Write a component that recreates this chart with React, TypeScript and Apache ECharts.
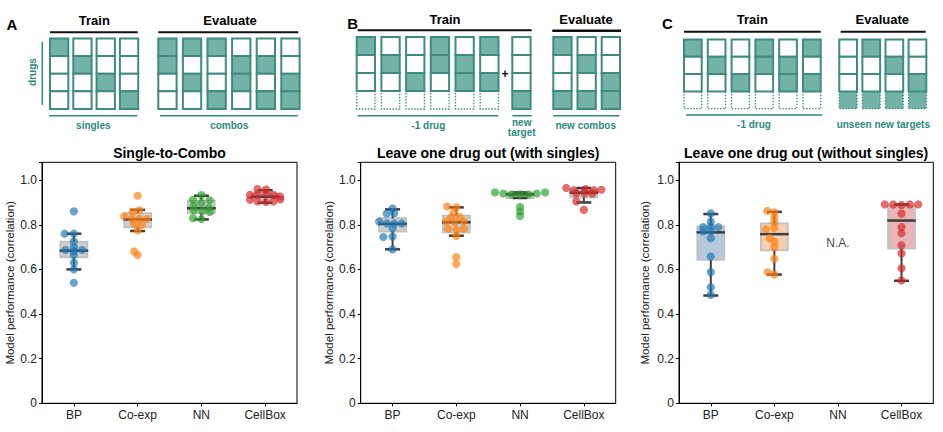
import React, { useEffect, useRef } from 'react';
import * as echarts from 'echarts';

// ---------------- data ----------------
const CATEGORIES = ['BP', 'Co-exp', 'NN', 'CellBox'];
const PANEL_TITLES = ['Single-to-Combo', 'Leave one drug out (with singles)', 'Leave one drug out (without singles)'];
const Y_NAME = 'Model performance (correlation)';
const NA_TEXT = 'N.A.';
const NA_VALUE = 0.717;

// point values and swarm column
const A_BP_VALUES = [0.86, 0.76, 0.76, 0.725, 0.70, 0.687, 0.682, 0.687, 0.665, 0.63, 0.60, 0.54];
const A_BP_SLOTS = [0, -1.1, 0, 0, 0, -1, 0, 1, 0, 0, 0, 0];
const A_CO_VALUES = [0.93, 0.865, 0.858, 0.838, 0.826, 0.826, 0.826, 0.805, 0.80, 0.775, 0.68, 0.665];
const A_CO_SLOTS = [0, 0.2, -0.6, -1.6, -0.7, 0.2, 1.1, -0.4, 0.5, 0, -0.4, 0];
const A_NN_VALUES = [0.933, 0.912, 0.91, 0.897, 0.885, 0.876, 0.866, 0.862, 0.858, 0.83, 0.826];
const A_NN_SLOTS = [0, -1, 1, 0, -0.9, 0.9, -0.9, 0.1, 1, -1, 0];
const A_CB_VALUES = [0.96, 0.958, 0.934, 0.937, 0.94, 0.934, 0.926, 0.912, 0.905, 0.902, 0.905, 0.914];
const A_CB_SLOTS = [-0.9, 0.1, -1.8, -0.9, 0.1, 1, 1.8, -1.8, -0.9, 0.1, 1, 1.8];

const B_BP_VALUES = [0.873, 0.85, 0.852, 0.814, 0.806, 0.806, 0.806, 0.785, 0.745, 0.747, 0.69];
const B_BP_SLOTS = [0, -0.7, 0.2, -1.6, -0.7, 0.2, 1.1, 0, -1.1, 0, 0];
const B_CO_VALUES = [0.882, 0.878, 0.856, 0.835, 0.835, 0.815, 0.812, 0.815, 0.782, 0.778, 0.782, 0.75, 0.655, 0.624];
const B_CO_SLOTS = [-1.1, 0, -0.3, -0.6, 0.4, -1.2, -0.2, 0.9, -1, 0, 0.9, 0, 0, 0];
const B_NN_VALUES = [0.945, 0.94, 0.936, 0.936, 0.936, 0.94, 0.945, 0.88, 0.86, 0.84];
const B_NN_SLOTS = [-3, -2, -1, 0, 1, 2, 3, 0, 0, 0];
const B_CB_VALUES = [0.965, 0.955, 0.96, 0.955, 0.957, 0.94, 0.942, 0.94, 0.905, 0.867];
const B_CB_SLOTS = [-2.1, -1.2, 0.2, 1.2, 2.1, -0.9, 0.1, 1, -0.9, 0];

const C_BP_VALUES = [0.851, 0.814, 0.79, 0.792, 0.79, 0.77, 0.772, 0.74, 0.658, 0.588, 0.52, 0.486];
const C_BP_SLOTS = [0, 0, -0.9, 0, 0.9, -0.9, 0, 0, 0, 0, 0, 0];
const C_CO_VALUES = [0.862, 0.856, 0.835, 0.812, 0.78, 0.786, 0.74, 0.725, 0.70, 0.648, 0.587, 0.577];
const C_CO_SLOTS = [-0.85, 0, 0, 0, -1, 0, -0.55, 0, 0, 0, -0.8, 0];
const C_CB_VALUES = [0.891, 0.891, 0.888, 0.891, 0.891, 0.85, 0.79, 0.762, 0.708, 0.672, 0.605, 0.55];
const C_CB_SLOTS = [-2, -1, 0, 1, 2, 0, 0, 0, 0, 0, 0, 0];

// box stats: [lower whisker, q1, median, q3, upper whisker]
const A_BOX = [[0.60, 0.654, 0.684, 0.724, 0.76], [0.772, 0.789, 0.824, 0.852, 0.867], [0.824, 0.852, 0.874, 0.908, 0.93], [0.899, 0.918, 0.926, 0.94, 0.955]];
const B_BOX = [[0.69, 0.77, 0.804, 0.829, 0.869], [0.751, 0.766, 0.811, 0.841, 0.878], [0.92, 0.92, 0.936, 0.945, 0.945], [0.90, 0.923, 0.944, 0.957, 0.965]];
const C_BOX = [[0.483, 0.643, 0.766, 0.792, 0.848], [0.577, 0.686, 0.758, 0.806, 0.858], null, [0.549, 0.694, 0.819, 0.885, 0.891]];

// schematic cell patterns: 0 white, 1 filled, 2 white dotted, 3 filled dotted
const A_TRAIN = [[1, 0, 0, 0], [0, 1, 0, 0], [0, 0, 1, 0], [0, 0, 0, 1]];
const A_EVAL = [[1, 1, 0, 0], [1, 0, 1, 0], [1, 0, 0, 1], [0, 1, 1, 0], [0, 1, 0, 1], [0, 0, 1, 1]];
const B_TRAIN = [[1, 0, 0, 2], [0, 1, 0, 2], [0, 0, 1, 2], [1, 1, 0, 2], [0, 1, 1, 2], [1, 0, 1, 2]];
const B_NEW = [[0, 0, 0, 1]];
const B_EVAL = [[1, 0, 0, 1], [0, 1, 0, 1], [0, 0, 1, 1]];
const C_TRAIN = [[1, 0, 0, 2], [0, 1, 0, 2], [0, 0, 1, 2], [1, 1, 0, 2], [0, 1, 1, 2], [1, 0, 1, 2]];
const C_EVAL = [[0, 0, 0, 3], [1, 0, 0, 3], [0, 1, 0, 3], [0, 0, 1, 3]];

// ---------------- styles / layout ----------------
const FONT = '"Liberation Sans", Arial, Helvetica, sans-serif';
const COLORS = ['#1f77b4', '#ff7f0e', '#2ca02c', '#d62728'];
const GRIDS = [{ left: 42, width: 255, gap: 25 }, { left: 360.7, width: 255, gap: 26 }, { left: 679, width: 254.3, gap: 28 }];
const GRID_TOP = 162.3;
const GRID_H = 241;
const Y_MAX = 1.08;
const MARK = 8.2;
const TEAL_FILL = '#72b2a7';
const TEAL_STROKE = '#3f8b80';
const TEAL_TEXT = '#2b8a7e';
const DARK = '#3d3d3d';

const POINTS = [
  [[A_BP_VALUES, A_BP_SLOTS], [A_CO_VALUES, A_CO_SLOTS], [A_NN_VALUES, A_NN_SLOTS], [A_CB_VALUES, A_CB_SLOTS]],
  [[B_BP_VALUES, B_BP_SLOTS], [B_CO_VALUES, B_CO_SLOTS], [B_NN_VALUES, B_NN_SLOTS], [B_CB_VALUES, B_CB_SLOTS]],
  [[C_BP_VALUES, C_BP_SLOTS], [C_CO_VALUES, C_CO_SLOTS], null, [C_CB_VALUES, C_CB_SLOTS]],
];
const BOXES = [A_BOX, B_BOX, C_BOX];
const BOX_FILLS = [
  ['#d0d0d0', '#d0d0d0', '#d0d0d0', '#d0d0d0'],
  ['#d0d0d0', '#d0d0d0', '#d0d0d0', '#d0d0d0'],
  ['#b5c8dc', '#f6cfb1', '#d0d0d0', '#e8b6b9'],
];

function txt(text: string, x: number, y: number, size: number, color: string, bold = true, extra: any = {}) {
  return {
    type: 'text', x, y, ...extra,
    style: { text, x: 0, y: 0, fill: color, fontSize: size, fontWeight: bold ? 'bold' : 'normal', fontFamily: FONT, align: 'center', verticalAlign: 'middle' },
  };
}
function hline(x1: number, x2: number, y: number, color: string, w: number) {
  return { type: 'line', shape: { x1, y1: y, x2, y2: y }, style: { stroke: color, lineWidth: w } };
}
function columns(pats: number[][], x0: number, step: number, top: number, w: number, ch: number) {
  const els: any[] = [];
  pats.forEach((p, ci) => {
    const x = x0 + ci * step;
    p.forEach((code, ri) => {
      const dotted = code >= 2;
      const filled = code === 1 || code === 3;
      els.push({
        type: 'rect',
        shape: { x, y: top + ri * ch, width: w, height: ch },
        style: {
          fill: filled ? TEAL_FILL : '#ffffff',
          stroke: TEAL_STROKE,
          lineWidth: dotted ? 1.3 : 2,
          lineDash: dotted ? [1.5, 1.5] : null,
        },
        z: dotted ? 1 : 2,
      });
    });
  });
  return els;
}

function schematic() {
  const els: any[] = [];
  // Panel A
  els.push(txt('A', 12, 24, 15, '#000'));
  els.push(txt('Train', 94.3, 20.5, 13, '#000'));
  els.push(txt('Evaluate', 230, 20.5, 13, '#000'));
  els.push(hline(50, 137.7, 32.3, '#111', 2));
  els.push(hline(158.3, 298.3, 32.3, '#111', 2));
  els.push(...columns(A_TRAIN, 50, 23.3, 38.5, 18.3, 17.6));
  els.push(...columns(A_EVAL, 158.3, 24.6, 38.5, 18.3, 17.6));
  els.push(txt('drugs', 32.5, 72, 10, TEAL_TEXT, true, { rotation: Math.PI / 2 }));
  els.push({ type: 'line', shape: { x1: 42.3, y1: 41.7, x2: 42.3, y2: 105 }, style: { stroke: TEAL_TEXT, lineWidth: 1.5 } });
  els.push(hline(49.3, 137.3, 115.7, TEAL_TEXT, 1.5));
  els.push(hline(160, 297.7, 115.7, TEAL_TEXT, 1.5));
  els.push(txt('singles', 93.3, 125, 10, TEAL_TEXT));
  els.push(txt('combos', 229.3, 125, 10, TEAL_TEXT));
  // Panel B
  els.push(txt('B', 352.7, 23.3, 15, '#000'));
  els.push(txt('Train', 445, 19, 13, '#000'));
  els.push(txt('Evaluate', 586, 19, 13, '#000'));
  els.push(hline(357.7, 531.7, 30.3, '#111', 2));
  els.push(hline(552.3, 621, 30.7, '#111', 2.5));
  els.push(...columns(B_TRAIN, 356.7, 24.7, 37, 18.3, 18));
  els.push(...columns(B_NEW, 512.3, 0, 37, 18.3, 18));
  els.push(...columns(B_EVAL, 553.3, 24.2, 37, 18.3, 18));
  els.push(txt('+', 505, 74, 12, '#000'));
  els.push(hline(357.7, 498.3, 115.7, TEAL_TEXT, 1.5));
  els.push(hline(512.3, 531.7, 115.7, TEAL_TEXT, 1.5));
  els.push(hline(553.3, 619.3, 115.7, TEAL_TEXT, 1.5));
  els.push(txt('-1 drug', 428.3, 125, 10, TEAL_TEXT));
  els.push(txt('new', 521.7, 122, 10, TEAL_TEXT));
  els.push(txt('target', 521.7, 132.5, 10, TEAL_TEXT));
  els.push(txt('new combos', 585.7, 125, 10, TEAL_TEXT));
  // Panel C
  els.push(txt('C', 667.3, 23.3, 15, '#000'));
  els.push(txt('Train', 752.3, 19, 13, '#000'));
  els.push(txt('Evaluate', 882.3, 19, 13, '#000'));
  els.push(hline(684, 820.7, 31.7, '#111', 2));
  els.push(hline(840.7, 925.7, 31.7, '#111', 2));
  els.push(...columns(C_TRAIN, 684, 23.8, 39.5, 17.7, 17.3));
  els.push(...columns(C_EVAL, 839.3, 23.1, 39.5, 17.7, 17.3));
  els.push(hline(686, 822.3, 115, TEAL_TEXT, 1.5));
  els.push(txt('-1 drug', 754, 124, 10, TEAL_TEXT));
  els.push(txt('unseen new targets', 883.3, 124, 10, TEAL_TEXT));
  // plot titles
  GRIDS.forEach((g, k) => {
    els.push(txt(PANEL_TITLES[k], g.left + g.width / 2, 152.5, 14, '#000'));
  });
  return els;
}

function makeBoxRender(fills: string[]) {
  return (params: any, api: any) => {
    const cat = api.value(0);
    const v = [1, 2, 3, 4, 5].map((i) => api.value(i));
    const band = api.size([1, 0])[0];
    const bw = band * 0.42;
    const cw = band * 0.235;
    const mw = band * 0.45;
    const cx = api.coord([cat, v[2]])[0];
    const y = (val: number) => api.coord([cat, val])[1];
    const yl = y(v[0]), y1 = y(v[1]), ym = y(v[2]), y3 = y(v[3]), yh = y(v[4]);
    return {
      type: 'group',
      children: [
        { type: 'rect', shape: { x: cx - bw / 2, y: y3, width: bw, height: Math.max(y1 - y3, 0.5) }, style: { fill: fills[cat], stroke: '#c2c2c2', lineWidth: 2 } },
        { type: 'line', shape: { x1: cx, y1: yh, x2: cx, y2: y3 }, style: { stroke: DARK, lineWidth: 2 } },
        { type: 'line', shape: { x1: cx, y1: y1, x2: cx, y2: yl }, style: { stroke: DARK, lineWidth: 2 } },
        { type: 'line', shape: { x1: cx - cw / 2, y1: yh, x2: cx + cw / 2, y2: yh }, style: { stroke: DARK, lineWidth: 2.5 } },
        { type: 'line', shape: { x1: cx - cw / 2, y1: yl, x2: cx + cw / 2, y2: yl }, style: { stroke: DARK, lineWidth: 2.5 } },
        { type: 'line', shape: { x1: cx - mw / 2, y1: ym, x2: cx + mw / 2, y2: ym }, style: { stroke: DARK, lineWidth: 2.5 } },
      ],
    };
  };
}

export default function App() {
  const ref = useRef<HTMLDivElement>(null);
  useEffect(() => {
    if (!ref.current) return;
    const chart = echarts.init(ref.current, null, { renderer: 'svg' });
    const grid: any[] = [];
    const xAxis: any[] = [];
    const yAxis: any[] = [];
    const series: any[] = [];
    GRIDS.forEach((g, k) => {
      grid.push({ left: g.left, top: GRID_TOP, width: g.width, height: GRID_H, show: true, borderColor: '#000', borderWidth: 1, backgroundColor: 'transparent' });
      xAxis.push({
        type: 'category', gridIndex: k, data: CATEGORIES, boundaryGap: true,
        axisLine: { onZero: false, lineStyle: { color: '#000', width: 1 } },
        axisTick: { show: true, alignWithLabel: true, length: 3, lineStyle: { color: '#000' } },
        axisLabel: { color: '#222', fontSize: 12, fontFamily: FONT, margin: 6 },
        splitLine: { show: false },
      });
      xAxis.push({ type: 'value', gridIndex: k, min: -0.5, max: 3.5, show: false });
      yAxis.push({
        type: 'value', gridIndex: k, min: 0, max: Y_MAX, interval: 0.2,
        name: Y_NAME, nameLocation: 'middle', nameGap: g.gap,
        nameTextStyle: { color: '#222', fontSize: 11.5, fontFamily: FONT },
        axisLine: { show: true, onZero: false, lineStyle: { color: '#000', width: 1 } },
        axisTick: { show: true, length: 3, lineStyle: { color: '#000' } },
        axisLabel: {
          color: '#222', fontSize: 12, fontFamily: FONT, margin: 5,
          formatter: (val: number) => (val > 1.001 ? '' : val === 0 ? '0' : val.toFixed(1)),
        },
        splitLine: { show: false },
      });
      const boxData = BOXES[k]
        .map((b, i) => (b ? [i, ...b] : null))
        .filter((d) => d !== null);
      series.push({
        type: 'custom', xAxisIndex: 2 * k + 1, yAxisIndex: k, z: 2, clip: false,
        renderItem: makeBoxRender(BOX_FILLS[k]),
        encode: { x: 0, y: [1, 2, 3, 4, 5] },
        data: boxData,
        silent: true,
      });
      const slotUnit = MARK * 1.02 / (g.width / 4);
      POINTS[k].forEach((grp, ci) => {
        if (!grp) return;
        const [vals, slots] = grp as number[][];
        series.push({
          type: 'scatter', xAxisIndex: 2 * k + 1, yAxisIndex: k, z: 3,
          symbolSize: MARK,
          itemStyle: { color: COLORS[ci], opacity: 0.68 },
          data: vals.map((v, i) => [ci + slots[i] * slotUnit, v]),
          silent: true,
        });
      });
    });
    // N.A. label in panel C at NN
    series.push({
      type: 'scatter', xAxisIndex: 5, yAxisIndex: 2, z: 4, symbolSize: 0,
      data: [[2, NA_VALUE]],
      label: { show: true, position: 'inside', formatter: NA_TEXT, color: '#111', fontSize: 12, fontFamily: FONT },
      silent: true,
    });
    chart.setOption({
      animation: false,
      textStyle: { fontFamily: FONT },
      grid, xAxis, yAxis, series,
      graphic: { elements: schematic() },
    });
    return () => chart.dispose();
  }, []);
  return <div ref={ref} style={{ position: 'absolute', left: 0, top: 0, width: 943, height: 432, background: '#fff' }} />;
}
